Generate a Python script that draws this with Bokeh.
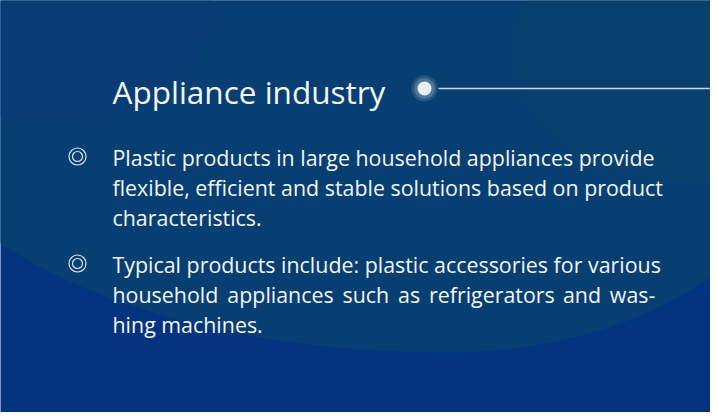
import glob
import numpy as np
from bokeh.plotting import figure
from bokeh.models import Range1d
from bokeh.core.properties import value
from bokeh.embed import file_html
from bokeh.resources import INLINE

# ---- content ----
title_text = "Appliance industry"
bullet1_lines = [
    "Plastic products in large household appliances provide",
    "flexible, efficient and stable solutions based on product",
    "characteristics.",
]
bullet2_line1 = "Typical products include: plastic accessories for various"
bullet2_line2_words = ["household", "appliances", "such", "as", "refrigerators", "and", "was-"]
bullet2_line3 = "hing machines."

# layout (reference pixel space)
W, H = 710, 412
X0, X1 = 8, 718
Y0, Y1 = 8, 420
TEXT_LEFT, TEXT_RIGHT = 120, 663
BODY_PX = 21.4

# approximate Open Sans advance widths (em)
ADV = {'h': .613, 'o': .604, 'u': .613, 's': .477, 'e': .561, 'l': .258, 'd': .613,
       'a': .556, 'p': .613, 'i': .258, 'n': .613, 'c': .479, 'r': .408, 'f': .336,
       'g': .546, 't': .353, 'w': .771, '-': .322}


def word_width(w, size):
    try:
        from PIL import ImageFont
        files = glob.glob("/usr/share/fonts/**/OpenSans-Regular.ttf", recursive=True) + \
            glob.glob("/usr/share/fonts/**/OpenSans*.ttf", recursive=True)
        f = ImageFont.truetype(files[0], 200)
        return f.getlength(w) / 200.0 * size
    except Exception:
        return sum(ADV.get(ch, .55) for ch in w) * size


widths = [word_width(w, BODY_PX) for w in bullet2_line2_words]
gap = (TEXT_RIGHT - TEXT_LEFT - sum(widths)) / (len(widths) - 1)
word_x = []
cur = TEXT_LEFT
for wdt in widths:
    word_x.append(cur)
    cur += wdt + gap

p = figure(width=W, height=H, output_backend="svg", toolbar_location=None,
           x_range=Range1d(X0, X1), y_range=Range1d(Y1, Y0),
           min_border=0)
p.xaxis.visible = False
p.yaxis.visible = False
p.xgrid.visible = False
p.ygrid.visible = False
p.outline_line_color = None
p.background_fill_color = "#04347f"
p.border_fill_color = "#04347f"

# background lighter region: asymmetric ellipse (decoration)
cx, cy, ry, rx_l, rx_r = 455, 110, 250, 541, 368
xs_l = np.linspace(cx - rx_l, cx, 80)
xs_r = np.linspace(cx, cx + rx_r, 80)
ys_l = cy + ry * np.sqrt(np.clip(1 - ((xs_l - cx) / rx_l) ** 2, 0, 1))
ys_r = cy + ry * np.sqrt(np.clip(1 - ((xs_r - cx) / rx_r) ** 2, 0, 1))
bx = np.concatenate([[cx - rx_l], xs_l, xs_r, [cx + rx_r, cx + rx_r, cx - rx_l]])
by = np.concatenate([[cy], ys_l, ys_r, [cy, -50, -50]])
p.patch(x=bx, y=by, fill_color="#083f72", line_color=None)
p.ellipse(x=[60], y=[20], width=[320], height=[220], angle=[0],
          fill_color="#0a3a78", fill_alpha=0.5, line_color=None)
p.ellipse(x=[700], y=[60], width=[360], height=[260], angle=[0],
          fill_color="#07436a", fill_alpha=0.5, line_color=None)

FONT = value("Open Sans")
TXT = "#f2f5f9"

# title
p.text(x=[120], y=[99], text=[title_text], text_font=FONT, text_font_size="31.5px",
       text_color=TXT, text_baseline="middle", text_align="left")
# title marker and line
p.segment(x0=[446], y0=[96], x1=[718], y1=[96], line_color="#c9d5e3", line_width=1.5)
p.scatter(x=[432], y=[96], size=26, fill_color="#ffffff", fill_alpha=0.12, line_color=None)
p.scatter(x=[432], y=[96], size=21, fill_color="#ffffff", fill_alpha=0.18, line_color=None)
p.scatter(x=[432], y=[96], size=14, fill_color="#e8edf3", line_color=None)

BODY = f"{BODY_PX}px"
LH = 30
# bullet 1
b1_y = 165
for i, line in enumerate(bullet1_lines):
    p.text(x=[TEXT_LEFT], y=[b1_y + i * LH], text=[line], text_font=FONT, text_font_size=BODY,
           text_color=TXT, text_baseline="middle", text_align="left")
# bullet 2
b2_y = 272
p.text(x=[TEXT_LEFT], y=[b2_y], text=[bullet2_line1], text_font=FONT, text_font_size=BODY,
       text_color=TXT, text_baseline="middle", text_align="left")
p.text(x=word_x, y=[b2_y + LH] * len(word_x), text=bullet2_line2_words, text_font=FONT,
       text_font_size=BODY, text_color=TXT, text_baseline="middle", text_align="left")
p.text(x=[TEXT_LEFT], y=[b2_y + 2 * LH], text=[bullet2_line3], text_font=FONT, text_font_size=BODY,
       text_color=TXT, text_baseline="middle", text_align="left")

# bullet markers (double ring)
for yy in (b1_y - 1, b2_y - 1):
    p.scatter(x=[85], y=[yy], size=17, fill_color=None, line_color="#dbe3ee", line_width=1.2)
    p.scatter(x=[85], y=[yy], size=10, fill_color=None, line_color="#dbe3ee", line_width=1.2)

open("out.html", "w").write(file_html(p, INLINE))
